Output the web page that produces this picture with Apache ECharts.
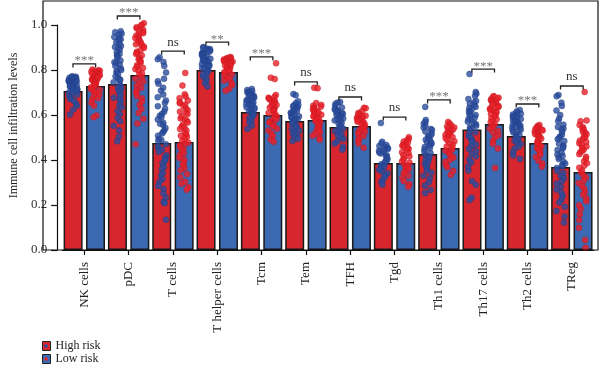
<!DOCTYPE html>
<html><head><meta charset="utf-8">
<script src="https://cdn.jsdelivr.net/npm/echarts@6/dist/echarts.min.js"></script>
<style>html,body{margin:0;padding:0;background:#fff}#c{width:600px;height:370px}</style>
</head><body><div id="c"></div>
<script>
const categories = ['NK cells','pDC','T cells','T helper cells','Tcm','Tem','TFH','Tgd','Th1 cells','Th17 cells','Th2 cells','TReg'];
const highRisk = [0.707,0.738,0.476,0.800,0.613,0.573,0.547,0.387,0.427,0.536,0.507,0.369];
const lowRisk  = [0.729,0.778,0.480,0.791,0.600,0.578,0.551,0.387,0.453,0.560,0.476,0.347];
const sigLabels = ['***','***','ns','**','***','ns','ns','ns','***','***','***','ns'];
const sigLevel  = [0.827,1.040,0.884,0.924,0.858,0.747,0.680,0.591,0.667,0.804,0.649,0.729];
const yTickValues = [0,0.2,0.4,0.6,0.8,1.0];

// sample values per category (High risk group, drawn on the red bars)
const highDots = [
 [0.772,0.770,0.769,0.766,0.765,0.763,0.761,0.760,0.758,0.756,0.754,0.752,0.750,0.749,0.747,0.745,0.743,0.741,0.740,0.738,0.736,0.734,0.731,0.729,0.727,0.725,0.721,0.719,0.715,0.712,0.709,0.704,0.701,0.696,0.690,0.685,0.678,0.671,0.663,0.651,0.641,0.624,0.602],
 [0.972,0.968,0.961,0.956,0.947,0.941,0.936,0.930,0.923,0.914,0.907,0.902,0.896,0.889,0.879,0.871,0.866,0.860,0.853,0.842,0.835,0.830,0.825,0.818,0.807,0.800,0.795,0.789,0.782,0.771,0.764,0.758,0.753,0.746,0.735,0.727,0.720,0.715,0.706,0.693,0.684,0.677,0.670,0.660,0.645,0.634,0.618,0.605,0.587,0.572,0.552,0.532,0.504,0.483],
 [0.857,0.848,0.836,0.818,0.789,0.761,0.750,0.739,0.721,0.708,0.691,0.679,0.664,0.653,0.639,0.628,0.614,0.604,0.597,0.590,0.580,0.566,0.561,0.556,0.542,0.532,0.525,0.518,0.508,0.494,0.489,0.484,0.470,0.460,0.452,0.446,0.436,0.421,0.411,0.402,0.396,0.385,0.370,0.359,0.343,0.331,0.315,0.302,0.285,0.271,0.251,0.233,0.214,0.208,0.135],
 [0.902,0.898,0.895,0.893,0.890,0.887,0.884,0.881,0.876,0.873,0.870,0.868,0.866,0.860,0.858,0.855,0.852,0.850,0.844,0.842,0.839,0.836,0.834,0.828,0.826,0.822,0.819,0.816,0.809,0.806,0.798,0.794,0.785,0.780,0.770,0.763,0.751,0.742,0.727],
 [0.716,0.711,0.706,0.703,0.700,0.697,0.693,0.690,0.688,0.685,0.682,0.680,0.677,0.674,0.672,0.666,0.664,0.661,0.658,0.656,0.650,0.648,0.642,0.640,0.634,0.632,0.626,0.623,0.616,0.613,0.605,0.601,0.592,0.586,0.575,0.567,0.552,0.538],
 [0.693,0.688,0.661,0.652,0.646,0.642,0.638,0.634,0.630,0.626,0.622,0.618,0.614,0.610,0.606,0.602,0.598,0.594,0.590,0.586,0.582,0.578,0.574,0.566,0.562,0.554,0.550,0.542,0.538,0.530,0.525,0.516,0.511,0.501,0.495,0.484],
 [0.658,0.655,0.650,0.640,0.633,0.628,0.624,0.620,0.616,0.612,0.608,0.604,0.600,0.596,0.592,0.588,0.584,0.580,0.576,0.572,0.564,0.560,0.552,0.548,0.540,0.536,0.528,0.523,0.514,0.509,0.499,0.493,0.482,0.473,0.459,0.446],
 [0.564,0.481,0.473,0.467,0.462,0.458,0.453,0.449,0.445,0.441,0.437,0.433,0.429,0.421,0.417,0.409,0.405,0.397,0.393,0.385,0.381,0.373,0.369,0.361,0.356,0.347,0.341,0.331,0.324,0.312,0.302,0.290],
 [0.636,0.578,0.569,0.562,0.551,0.544,0.538,0.533,0.527,0.517,0.511,0.506,0.501,0.495,0.490,0.485,0.479,0.474,0.469,0.463,0.458,0.453,0.447,0.437,0.431,0.421,0.415,0.405,0.399,0.389,0.383,0.372,0.365,0.353,0.344,0.330,0.319,0.301,0.286,0.267,0.253],
 [0.782,0.702,0.694,0.685,0.671,0.662,0.656,0.650,0.642,0.636,0.631,0.624,0.618,0.613,0.606,0.600,0.595,0.588,0.582,0.577,0.570,0.565,0.559,0.552,0.546,0.541,0.534,0.523,0.516,0.505,0.498,0.487,0.480,0.469,0.461,0.449,0.440,0.427,0.417,0.402,0.390,0.371,0.353,0.306,0.290,0.232,0.222],
 [0.622,0.616,0.611,0.606,0.602,0.598,0.594,0.590,0.586,0.582,0.578,0.574,0.570,0.566,0.562,0.558,0.555,0.552,0.548,0.545,0.542,0.535,0.532,0.525,0.522,0.515,0.511,0.503,0.499,0.491,0.486,0.477,0.471,0.460,0.451,0.435,0.420,0.405],
 [0.689,0.683,0.655,0.640,0.620,0.600,0.584,0.572,0.557,0.547,0.540,0.534,0.525,0.512,0.504,0.498,0.492,0.484,0.472,0.464,0.458,0.452,0.444,0.432,0.424,0.418,0.412,0.404,0.392,0.384,0.378,0.372,0.364,0.351,0.342,0.329,0.319,0.305,0.295,0.280,0.269,0.253,0.241,0.224,0.211,0.192,0.173,0.149,0.122]
];
// sample values per category (Low risk group, drawn on the blue bars)
const lowDots = [
 [0.802,0.799,0.797,0.795,0.792,0.790,0.789,0.786,0.784,0.782,0.780,0.777,0.776,0.773,0.771,0.769,0.766,0.764,0.762,0.759,0.757,0.755,0.752,0.750,0.748,0.745,0.743,0.741,0.735,0.732,0.726,0.723,0.715,0.712,0.704,0.700,0.691,0.685,0.675,0.669,0.654,0.641,0.598,0.590],
 [1.008,1.001,0.995,0.990,0.985,0.979,0.974,0.969,0.963,0.958,0.953,0.947,0.942,0.937,0.931,0.925,0.920,0.914,0.909,0.904,0.898,0.887,0.881,0.876,0.871,0.865,0.854,0.848,0.843,0.838,0.831,0.821,0.814,0.809,0.804,0.797,0.786,0.779,0.768,0.761,0.749,0.742,0.730,0.721,0.708,0.699,0.685,0.674,0.659,0.646,0.627,0.609,0.583,0.562,0.470],
 [0.787,0.731,0.692,0.682,0.675,0.664,0.657,0.652,0.646,0.639,0.628,0.621,0.615,0.610,0.603,0.592,0.585,0.579,0.574,0.567,0.556,0.549,0.544,0.538,0.531,0.520,0.513,0.508,0.502,0.495,0.484,0.477,0.471,0.466,0.459,0.448,0.441,0.429,0.421,0.409,0.401,0.388,0.379,0.365,0.354,0.338,0.323,0.303,0.294,0.279,0.268],
 [0.858,0.855,0.853,0.851,0.849,0.847,0.845,0.843,0.841,0.839,0.837,0.835,0.833,0.831,0.829,0.827,0.825,0.820,0.817,0.812,0.809,0.804,0.801,0.795,0.791,0.785,0.780,0.773,0.767,0.759,0.752,0.742,0.732,0.717,0.708],
 [0.830,0.766,0.760,0.689,0.681,0.677,0.673,0.669,0.665,0.661,0.657,0.653,0.649,0.645,0.641,0.637,0.633,0.629,0.625,0.621,0.617,0.609,0.605,0.597,0.593,0.585,0.580,0.571,0.566,0.556,0.550,0.539,0.531,0.518,0.507,0.491,0.481],
 [0.721,0.719,0.653,0.645,0.641,0.637,0.633,0.629,0.625,0.621,0.617,0.613,0.609,0.605,0.601,0.597,0.593,0.589,0.585,0.581,0.573,0.569,0.561,0.557,0.549,0.545,0.537,0.532,0.523,0.518,0.508,0.501,0.490],
 [0.632,0.630,0.618,0.609,0.605,0.601,0.597,0.594,0.590,0.587,0.584,0.580,0.577,0.574,0.570,0.567,0.564,0.557,0.554,0.547,0.544,0.537,0.534,0.526,0.522,0.513,0.507,0.496,0.488,0.473,0.455],
 [0.501,0.493,0.487,0.482,0.477,0.472,0.467,0.463,0.458,0.453,0.449,0.444,0.435,0.430,0.421,0.416,0.407,0.402,0.393,0.388,0.379,0.374,0.365,0.359,0.349,0.342,0.330,0.321,0.306,0.293,0.281],
 [0.569,0.562,0.554,0.549,0.544,0.539,0.534,0.530,0.525,0.520,0.516,0.511,0.507,0.502,0.497,0.488,0.483,0.474,0.469,0.460,0.455,0.446,0.441,0.432,0.427,0.417,0.411,0.400,0.392,0.379,0.368,0.351,0.334],
 [0.684,0.680,0.677,0.673,0.669,0.665,0.661,0.657,0.653,0.649,0.645,0.641,0.637,0.633,0.629,0.625,0.621,0.617,0.613,0.609,0.605,0.597,0.593,0.585,0.581,0.573,0.568,0.559,0.554,0.545,0.539,0.529,0.522,0.510,0.501,0.486,0.472,0.451,0.365],
 [0.556,0.551,0.547,0.543,0.539,0.535,0.531,0.527,0.523,0.519,0.515,0.512,0.508,0.505,0.502,0.495,0.492,0.485,0.482,0.475,0.472,0.465,0.461,0.453,0.448,0.439,0.433,0.422,0.413,0.397,0.384,0.370],
 [0.702,0.576,0.572,0.556,0.546,0.540,0.534,0.526,0.520,0.514,0.506,0.500,0.494,0.486,0.480,0.474,0.466,0.460,0.454,0.446,0.440,0.434,0.426,0.414,0.406,0.394,0.386,0.374,0.366,0.353,0.344,0.331,0.322,0.308,0.298,0.284,0.273,0.258,0.246,0.230,0.217,0.199,0.183,0.159,0.133,0.099,0.045,0.010]
];

const dotCats = [];
categories.forEach(c => { dotCats.push(c + ' H', c + ' L'); });
const highDotData = [], lowDotData = [];
highDots.forEach((arr, i) => arr.forEach(v => highDotData.push([2 * i, v])));
lowDots.forEach((arr, i) => arr.forEach(v => lowDotData.push([2 * i + 1, v])));

const SERIF = '"Liberation Serif", "DejaVu Serif", serif';
const RED = '#d7262d', BLUE = '#3b69b2';
const chart = echarts.init(document.getElementById('c'), null, {renderer: 'canvas'});
chart.setOption({
  animation: false,
  backgroundColor: '#fff',
  grid: {left: 48, right: 6, top: 25, bottom: 120, containLabel: false},
  xAxis: [{
    type: 'category', data: categories, gridIndex: 0,
    axisLine: {show: true, lineStyle: {color: '#111', width: 1.2}},
    axisTick: {show: true, alignWithLabel: true, length: 5, lineStyle: {color: '#111', width: 1.2}},
    axisLabel: {rotate: 90, margin: 12, interval: 0, fontFamily: SERIF, fontSize: 13, color: '#222'}
  }, {
    type: 'category', data: dotCats, gridIndex: 0, show: false,
    jitter: 9, jitterOverlap: true
  }],
  yAxis: [{
    type: 'value', min: 0, max: 1, interval: 0.2, offset: 5,
    name: 'Immune cell infiltration levels', nameLocation: 'middle', nameGap: 30,
    nameTextStyle: {fontFamily: SERIF, fontSize: 12, color: '#222', padding: [0, 0, 0, 24]},
    axisLine: {show: true, lineStyle: {color: '#111', width: 1.2}},
    axisTick: {show: true, length: 6, lineStyle: {color: '#111', width: 1.2}},
    axisLabel: {margin: 10, fontFamily: SERIF, fontSize: 13, color: '#333',
      formatter: v => (yTickValues.indexOf(v) >= 0 ? v.toFixed(1) : '')},
    splitLine: {show: false}
  }],
  legend: {
    orient: 'vertical', left: 42, top: 340, padding: 0, itemGap: 1,
    itemWidth: 8, itemHeight: 9, icon: 'rect',
    data: ['High risk', 'Low risk'],
    itemStyle: {borderColor: '#222', borderWidth: 1},
    textStyle: {fontFamily: SERIF, fontSize: 12, color: '#222', lineHeight: 12}
  },
  graphic: [
    {type: 'rect', shape: {x: 43, y: 1, width: 555, height: 249}, style: {fill: 'none', stroke: '#111', lineWidth: 1.2}, z: 100, silent: true},
    {type: 'circle', shape: {cx: 46, cy: 346, r: 1.8}, style: {fill: '#2d4f9e'}, z: 100},
    {type: 'circle', shape: {cx: 46, cy: 359, r: 1.8}, style: {fill: '#e8222a'}, z: 100}
  ],
  series: [
    {name: 'High risk', type: 'bar', data: highRisk, barWidth: 19, barGap: '18%', z: 2,
     itemStyle: {color: RED, borderColor: '#1a1a1a', borderWidth: 1.5}},
    {name: 'Low risk', type: 'bar', data: lowRisk, barWidth: 19, barGap: '18%', z: 2,
     itemStyle: {color: BLUE, borderColor: '#1a1a1a', borderWidth: 1.5}},
    {name: 'High risk samples', type: 'scatter', xAxisIndex: 1, data: highDotData, symbolSize: 6, clip: false, z: 3,
     itemStyle: {color: '#2c4e9f', borderColor: '#1f3b80', borderWidth: 0.5}},
    {name: 'Low risk samples', type: 'scatter', xAxisIndex: 1, data: lowDotData, symbolSize: 6, clip: false, z: 3,
     itemStyle: {color: '#ea2129', borderColor: '#c0161d', borderWidth: 0.5}},
    {name: 'sig', type: 'custom', xAxisIndex: 0, yAxisIndex: 0, clip: false, z: 5,
     data: sigLevel.map((y, i) => [i, y]),
     renderItem: function (params, api) {
       const p = api.coord([api.value(0), api.value(1)]);
       const half = api.size([1, 0])[0] * 0.255;
       const lab = sigLabels[params.dataIndex];
       const star = lab.indexOf('*') >= 0;
       return {type: 'group', children: [
         {type: 'polyline', shape: {points: [[p[0] - half, p[1] + 3.5], [p[0] - half, p[1]], [p[0] + half, p[1]], [p[0] + half, p[1] + 3.5]]},
          style: {stroke: '#222', lineWidth: 1.3, fill: null}},
         {type: 'text', x: p[0], y: p[1] - (star ? 3 : 9),
          style: {text: lab, fill: star ? '#777' : '#333', font: '13px ' + SERIF, align: 'center', verticalAlign: 'middle'}}
       ]};
     }}
  ]
});
</script></body></html>
